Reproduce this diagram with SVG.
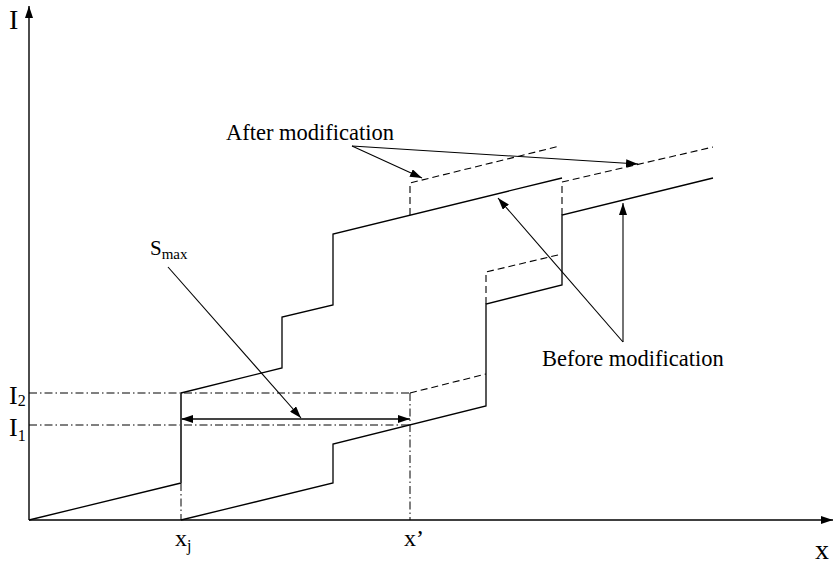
<svg xmlns="http://www.w3.org/2000/svg" width="834" height="566" viewBox="0 0 834 566">
  <style>
    .solid { fill: none; stroke: #000; stroke-width: 1.3; }
    .dash { fill: none; stroke: #000; stroke-width: 1.1; stroke-dasharray: 7 4; }
    .dashdot { fill: none; stroke: #000; stroke-width: 1; stroke-dasharray: 8 3 1.5 3; }
    .lead { fill: none; stroke: #000; stroke-width: 1.1; }
    .axis { fill: none; stroke: #000; stroke-width: 1.4; }
    .span { fill: none; stroke: #444; stroke-width: 2; }
    text { font-family: "Liberation Serif", "Times New Roman", Times, serif; fill: #000; }
  </style>
  <defs>
    <marker id="head" viewBox="0 0 12 8" refX="12" refY="4" markerWidth="12" markerHeight="8" markerUnits="userSpaceOnUse" orient="auto">
      <path d="M0,0 L12,4 L0,8 Z" fill="#000"/>
    </marker>
    <marker id="headStart" viewBox="0 0 12 8" refX="0" refY="4" markerWidth="12" markerHeight="8" markerUnits="userSpaceOnUse" orient="auto">
      <path d="M12,0 L0,4 L12,8 Z" fill="#000"/>
    </marker>
  </defs>

  <!-- axes -->
  <g id="axes">
    <path class="axis" d="M29,520 L29,6" marker-end="url(#head)"/>
    <path class="axis" d="M29,520 L833,520" marker-end="url(#head)"/>
    <text x="9" y="29" font-size="28">I</text>
    <text x="815" y="559" font-size="28">x</text>
  </g>

  <!-- reference levels and positions -->
  <g id="guides">
    <path class="dashdot" d="M29,393 L410,393"/>
    <path class="dashdot" d="M29,425 L410,425"/>
    <path class="dashdot" d="M181,483 L181,520"/>
    <path class="dashdot" d="M410,393 L410,520"/>
    <text x="9" y="404" font-size="26">I<tspan font-size="16" dy="2">2</tspan></text>
    <text x="9" y="436" font-size="26">I<tspan font-size="16" dy="5">1</tspan></text>
    <text x="175" y="546" font-size="24">x<tspan font-size="16" dy="5">j</tspan></text>
    <text x="404" y="546" font-size="24">x’</text>
  </g>

  <!-- staircase curves before modification -->
  <g id="curve-a">
    <path class="solid" d="M29,520 L181,483"/>
    <path class="span" d="M181,483 L181,393"/>
    <path class="solid" d="M181,393 L282,368 L282,317 L333,305 L333,234 L562,178"/>
  </g>
  <g id="curve-b">
    <path class="solid" d="M181,520 L333,483 L333,444 L486,406 L486,304 L562,285 L562,215 L713,178"/>
  </g>

  <!-- curves after modification -->
  <g id="curve-a-modified">
    <path class="dash" d="M410,215 L410,183 L560,146"/>
  </g>
  <g id="curve-b-modified">
    <path class="dash" d="M410,393 L486,374"/>
    <path class="dash" d="M486,304 L486,272 L562,254"/>
    <path class="dash" d="M562,215 L562,182 L713,147"/>
  </g>

  <!-- connectors -->
  <g id="connectors">
    <path class="span" d="M181,419 L410,419" marker-start="url(#headStart)" marker-end="url(#head)"/>
    <path class="lead" d="M168,267 L301,418" marker-end="url(#head)"/>
    <path class="lead" d="M352,146 L422,178" marker-end="url(#head)"/>
    <path class="lead" d="M352,146 L638,164" marker-end="url(#head)"/>
    <path class="lead" d="M623,342 L498,198" marker-end="url(#head)"/>
    <path class="lead" d="M623,342 L623,203" marker-end="url(#head)"/>
  </g>

  <!-- labels -->
  <g id="label-smax">
    <text x="150" y="255" font-size="21">S<tspan font-size="15" dy="4">max</tspan></text>
  </g>
  <g id="label-after">
    <text x="226" y="140" font-size="22.5">After modification</text>
  </g>
  <g id="label-before">
    <text x="542" y="366" font-size="22.5">Before modification</text>
  </g>
</svg>
